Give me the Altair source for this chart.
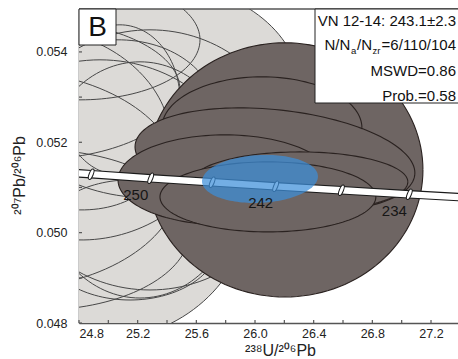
import altair as alt
import numpy as np
import pandas as pd

# ---- plot ranges -------------------------------------------------------
X_MIN, X_MAX = 24.8, 27.384
Y_MIN, Y_MAX = 0.048, 0.05495

# ---- concordia nodes (Ma) and their Tera-Wasserburg coordinates ---------
ages = [258, 254, 250, 246, 242, 238, 234, 230]
conc_u_pb = [24.489, 24.883, 25.289, 25.708, 26.141, 26.589, 27.052, 27.531]
conc_pb_pb = [0.051382, 0.051293, 0.051203, 0.051115, 0.051026, 0.050938, 0.050849, 0.050761]
labelled_ages = [250, 242, 234]

# ---- analyses used for the age (dark ellipses) ------------------------
sel_x = [26.204, 26.047, 26.136, 25.795, 26.306, 26.088]
sel_y = [0.051389, 0.052319, 0.051610, 0.051167, 0.051123, 0.050791]
sel_sx = [0.941, 0.682, 0.954, 0.729, 0.736, 0.736]
sel_sy = [0.002813, 0.00113, 0.001152, 0.000997, 0.000664, 0.000775]
sel_rho = [0.0, 0.0, -0.25, 0.0, 0.0, 0.0]

# ---- other analyses (light ellipses) -----------------------------------
rej_x = [24.943, 25.284, 25.284, 25.216, 24.670, 24.534, 24.943, 24.466, 25.079, 24.261, 24.807, 25.148]
rej_y = [0.050724, 0.053161, 0.051610, 0.051167, 0.052496, 0.050060, 0.052053, 0.053161, 0.052939, 0.051167, 0.054268, 0.049838]
rej_sx = [1.023, 1.023, 0.954, 0.682, 0.750, 1.023, 0.818, 1.023, 0.409, 1.227, 0.818, 0.613]
rej_sy = [0.003101, 0.002392, 0.002879, 0.002614, 0.001993, 0.001772, 0.002215, 0.00155, 0.001661, 0.002436, 0.001329, 0.001329]
rej_rho = [0.0, 0.0, 0.0, 0.0, -0.2, 0.0, 0.15, 0.0, 0.0, 0.0, 0.0, 0.0]

# ---- concordia age ellipse ---------------------------------------------
age_x, age_y, age_sx, age_sy, age_rho = [26.034], [0.051189], [0.395], [0.000532], [0.1]

# ---- axis ticks ----------------------------------------------------------
x_labels = [24.8, 25.2, 25.6, 26.0, 26.4, 26.8, 27.2]
x_minor = [24.8, 25.0, 25.2, 25.4, 25.6, 25.8, 26.0, 26.2, 26.4, 26.6, 26.8, 27.0, 27.2]
y_labels = [0.048, 0.050, 0.052, 0.054]
y_minor = [0.048, 0.049, 0.050, 0.051, 0.052, 0.053, 0.054]

FONT = "Liberation Sans"
LIGHT = "#dcdad7"
DARK = "#6e6563"
BLUE = "#3d8fd9"
W, H = 379, 314


def ellipse_table(xs, ys, sxs, sys_, rhos, prefix, n=140):
    """Outline points of 2-sigma error ellipses (x/y half extents + correlation)."""
    t = np.linspace(0, 2 * np.pi, n + 1)
    rows = []
    for k, (cx, cy, a, b, r) in enumerate(zip(xs, ys, sxs, sys_, rhos)):
        s = np.sqrt(1 - r * r)
        ex = cx + a * np.cos(t)
        ey = cy + b * (r * np.cos(t) + s * np.sin(t))
        for i in range(n + 1):
            rows.append({"id": f"{prefix}{k:02d}", "i": i, "x": ex[i], "y": ey[i]})
    return pd.DataFrame(rows)


rej_df = ellipse_table(rej_x, rej_y, rej_sx, rej_sy, rej_rho, "r")
sel_df = ellipse_table(sel_x, sel_y, sel_sx, sel_sy, sel_rho, "s")
age_df = ellipse_table(age_x, age_y, age_sx, age_sy, age_rho, "a")
conc_df = pd.DataFrame({"age": ages, "x": conc_u_pb, "y": conc_pb_pb})
node_df = conc_df[(conc_df.x > X_MIN) & (conc_df.x < X_MAX)]
lab_df = conc_df[conc_df.age.isin(labelled_ages)]

xs = alt.Scale(domain=[X_MIN, X_MAX], nice=False, zero=False)
ys = alt.Scale(domain=[Y_MIN, Y_MAX], nice=False, zero=False)

x_axis = alt.Axis(values=x_labels, format=".1f", ticks=False, grid=False,
                  domainColor="#555", domainWidth=1.6,
                  labelFont=FONT, labelFontSize=12.5, labelColor="#222", labelPadding=4,
                  titleFont=FONT, titleFontSize=16, titleFontWeight="normal", titleColor="#222",
                  titleX=201, titleY=32, titleBaseline="alphabetic", titleAlign="center")
y_axis = alt.Axis(values=y_labels, format=".3f", ticks=False, grid=False,
                  domainColor="#555", domainWidth=1.6,
                  labelFont=FONT, labelFontSize=12.5, labelColor="#222", labelPadding=12,
                  titleFont=FONT, titleFontSize=16, titleFontWeight="normal", titleColor="#222",
                  titleX=-55, titleY=166, titleBaseline="alphabetic", titleAlign="center")

X_TITLE = "²³⁸U/²⁰⁶Pb"
Y_TITLE = "²⁰⁷Pb/²⁰⁶Pb"


def X(field="x"):
    return alt.X(f"{field}:Q", scale=xs, axis=x_axis, title=X_TITLE)


def Y(field="y"):
    return alt.Y(f"{field}:Q", scale=ys, axis=y_axis, title=Y_TITLE)


one = pd.DataFrame({"k": [0]})

# light ellipses: fills first, then all outlines on top
rej_fill = alt.Chart(rej_df).mark_line(fill=LIGHT, strokeOpacity=0, clip=True).encode(
    x=X(), y=Y(), detail="id:N", order="i:Q")
rej_line = alt.Chart(rej_df).mark_line(stroke="#474747", strokeWidth=1, clip=True).encode(
    x=X(), y=Y(), detail="id:N", order="i:Q")

# dark ellipses: filled and outlined one after another
sel_layer = alt.Chart(sel_df).mark_line(fill=DARK, stroke="#2a2220", strokeWidth=1.1, clip=True).encode(
    x=X(), y=Y(), detail="id:N", order="i:Q")

# concordia band
band_out = alt.Chart(conc_df).mark_line(color="#1a1a1a", strokeWidth=8.5, clip=True).encode(
    x=X(), y=Y(), order="age:Q")
band_in = alt.Chart(conc_df).mark_line(color="white", strokeWidth=6.3, clip=True).encode(
    x=X(), y=Y(), order="age:Q")

NODE_SHAPE = "M0,-1 A0.36,1 0 1,1 0,1 A0.36,1 0 1,1 0,-1 Z"
nodes = alt.Chart(node_df).mark_point(shape=NODE_SHAPE, size=125, angle=22, filled=True,
                                      fill="white", stroke="#1a1a1a", strokeWidth=1,
                                      opacity=1).encode(x=X(), y=Y())

age_layer = alt.Chart(age_df).mark_line(fill=BLUE, fillOpacity=0.72, strokeOpacity=0, clip=True).encode(
    x=X(), y=Y(), detail="id:N", order="i:Q")

age_text = alt.Chart(lab_df).mark_text(dx=-15, dy=17, font=FONT, fontSize=15, color="#161616").encode(
    x=X(), y=Y(), text="age:Q")

# plot frame (top edge) and inward minor ticks
top_edge = alt.Chart(one).mark_rule(color="#555", strokeWidth=1.6).encode(
    x=alt.value(0), x2=alt.value(W), y=alt.value(0))
xt = alt.Chart(pd.DataFrame({"x": x_minor})).mark_rule(color="#555", strokeWidth=1.2).encode(
    x=X(), y=alt.value(H - 3), y2=alt.value(H))
yt = alt.Chart(pd.DataFrame({"y": y_minor})).mark_rule(color="#555", strokeWidth=1.2).encode(
    y=Y(), x=alt.value(0), x2=alt.value(3))

# panel letter
b_box = alt.Chart(one).mark_rect(fill="white", stroke="#222", strokeWidth=1).encode(
    x=alt.value(0), x2=alt.value(37), y=alt.value(0), y2=alt.value(36))
b_txt = alt.Chart(one).mark_text(text="B", font=FONT, fontSize=28,
                                 color="#111", baseline="middle", align="center").encode(
    x=alt.value(18.5), y=alt.value(19))

# result box
info_box = alt.Chart(one).mark_rect(fill="white", stroke="#222", strokeWidth=1).encode(
    x=alt.value(236), x2=alt.value(390), y=alt.value(0), y2=alt.value(94))


def info_text(txt, x, y, size=15, align="right"):
    return alt.Chart(one).mark_text(text=txt, font=FONT, fontSize=size, color="#111",
                                    align=align, baseline="alphabetic").encode(
        x=alt.value(x), y=alt.value(y))


RX = 377
info = [
    info_text("VN 12-14: 243.1±2.3", RX, 17),
    info_text("N/N", 245.5, 41, align="left"),
    info_text("a", 272.0, 45, size=9.5, align="left"),
    info_text("/N", 278.0, 41, align="left"),
    info_text("zr", 293.5, 45, size=9.5, align="left"),
    info_text("=6/110/104", RX, 41),
    info_text("MSWD=0.86", RX, 67),
    info_text("Prob.=0.58", RX, 92),
]

chart = alt.layer(
    rej_fill, rej_line, sel_layer, band_out, band_in, nodes, age_layer, age_text,
    top_edge, xt, yt, b_box, b_txt, info_box, *info
).properties(
    width=W, height=H,
    autosize=alt.AutoSizeParams(type="none"),
    padding={"left": 79, "top": 9, "right": 0, "bottom": 36},
    background="white",
).configure_view(strokeWidth=0)

chart.save("out.html", embed_options={"renderer": "svg", "actions": False})
